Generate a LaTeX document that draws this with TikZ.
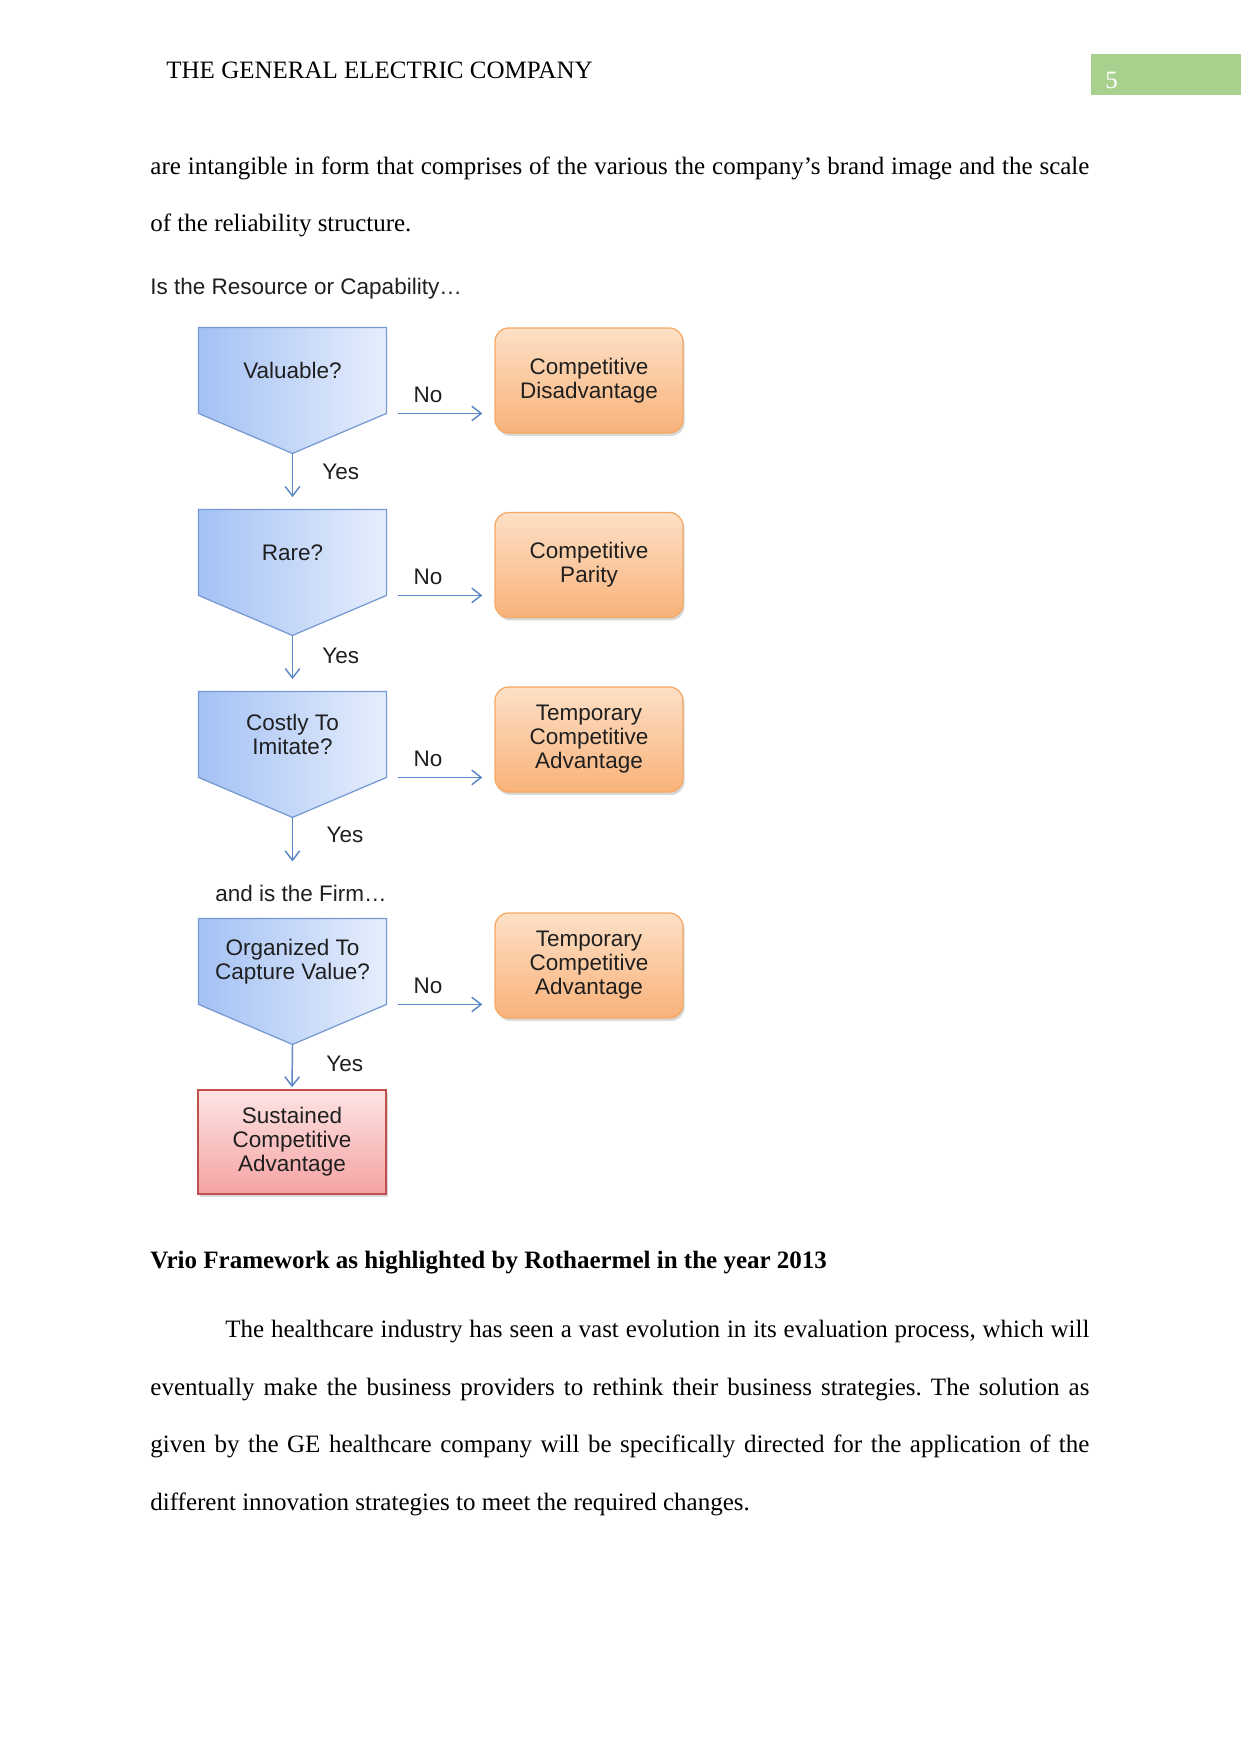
\documentclass[tikz,border=0pt]{standalone}
\usepackage{fontspec}
\setmainfont{Liberation Serif}
\newfontfamily\chartfont{Liberation Sans}
\usetikzlibrary{arrows.meta,positioning,calc,shadows}
\pgfdeclarelayer{background}
\pgfsetlayers{background,main}
\definecolor{qleft}{HTML}{A4C1F4}
\definecolor{qright}{HTML}{E6EEFC}
\definecolor{qline}{HTML}{7699D3}
\definecolor{arrowblue}{HTML}{5A87C6}
\definecolor{outtop}{HTML}{FDE0C6}
\definecolor{outbot}{HTML}{F9B27A}
\definecolor{outline}{HTML}{F5A862}
\definecolor{susttop}{HTML}{FDE4E4}
\definecolor{sustbot}{HTML}{F5A2A2}
\definecolor{sustline}{HTML}{C0504D}
\definecolor{pagegreen}{HTML}{A9D18E}
\definecolor{chartink}{HTML}{1F1F1F}
\frenchspacing

\begin{document}
\begin{tikzpicture}[
    x=0.48bp, y=-0.48bp,
    pagetext/.style={inner sep=0pt,font=\fontsize{12bp}{14bp}\selectfont},
    chart/.style={font=\fontsize{10.8bp}{11.5bp}\chartfont,text=chartink},
    lbl/.style={chart,inner sep=0pt},
    question/.style={chart,minimum width=89.8bp,minimum height=40.8bp,
                     align=center,inner sep=0pt},
    qshape/.style={draw=qline,line width=.6bp,left color=qleft,right color=qright},
    outcome/.style={chart,draw=outline,line width=.6bp,rounded corners=6.5bp,
                    top color=outtop,bottom color=outbot,align=center,
                    minimum width=90.2bp,minimum height=50.4bp,
                    drop shadow={opacity=.3,shadow xshift=.8bp,shadow yshift=-1.4bp}},
    sustain/.style={chart,draw=sustline,line width=.6bp,
                    top color=susttop,bottom color=sustbot,align=center,
                    minimum width=90.2bp,minimum height=50bp,
                    drop shadow={opacity=.3,shadow xshift=.8bp,shadow yshift=-1.4bp}},
    arr/.style={-{Straight Barb[length=4.5bp,width=7bp]},line width=.7bp,arrowblue}
  ]
  \useasboundingbox (0,0) rectangle (1241,1754);
  \begin{pgfonlayer}{background}
    \fill[white] (0,0) rectangle (1241,1754);
  \end{pgfonlayer}

  % page header
  \node[pagetext,anchor=base west] (header) at (166,78) {THE GENERAL ELECTRIC COMPANY};
  \node[fill=pagegreen,inner sep=0pt,minimum width=72bp,minimum height=19.7bp,
        anchor=north west] (pagebox) at (1091,54) {};
  \node[pagetext,anchor=base west,text=white] (pagenum) at (1105,88) {5};

  % text above the chart
  \node[pagetext,anchor=base west] (intro1) at (150,174)
    {\makebox[450.7bp][s]{are intangible in form that comprises of the various the company’s brand image and the scale}};
  \node[pagetext,anchor=base west] (intro2) at (150,231) {of the reliability structure.};

  % VRIO chart
  \node[lbl,anchor=west] (resource) at (150,289) {Is the Resource or Capability…};

  \node[question] (valuable) at (292.5,370.5) {Valuable?};
  \node[question] (rare) at (292.5,552.5) {Rare?};
  \node[question] (costly) at (292.5,734.5) {Costly To\\Imitate?};
  \node[lbl] (firm) at (301,893) {and is the Firm…};
  \node[question] (organized) at (292.5,961.5) {Organized To\\Capture Value?};
  \node[sustain] (sustained) at (292,1142) {Sustained\\Competitive\\Advantage};

  \node[outcome] (disadvantage) at (589,380.5) {Competitive\\Disadvantage};
  \node[outcome] (parity) at (589,565) {Competitive\\Parity};
  \node[outcome] (temporary) at (589,739.5) {Temporary\\Competitive\\Advantage};
  \node[outcome] (temporary2) at (589,965.5) {Temporary\\Competitive\\Advantage};

  \foreach \q in {valuable,rare,costly,organized}
    \coordinate (\q-tip) at ($(\q.south)+(0,40)$);
  \coordinate (costly-out) at ($(costly-tip)+(0,44)$);

  \begin{pgfonlayer}{background}
    \foreach \q in {valuable,rare,costly,organized}
      \path[qshape] (\q.north west) -- (\q.north east) -- (\q.south east)
        -- (\q-tip) -- (\q.south west) -- cycle;
  \end{pgfonlayer}

  % yes branches
  \draw[arr,shorten >=6bp] (valuable-tip) -- node[lbl,pos=.33,right=14bp]{Yes} (rare.north);
  \draw[arr,shorten >=6bp] (rare-tip) -- node[lbl,pos=.36,right=14bp]{Yes} (costly.north);
  \draw[arr] (costly-tip) -- node[lbl,pos=.39,right=16bp]{Yes} (costly-out);
  \draw[arr,shorten >=1bp] (organized-tip) -- node[lbl,pos=.44,right=16bp]{Yes} (sustained.north);

  % no branches
  \foreach \q/\o in {valuable/disadvantage,rare/parity,costly/temporary,organized/temporary2}
    \draw[arr,shorten <=5.3bp,shorten >=5.8bp] (\q.south east)
      -- node[lbl,pos=.385,above=5bp]{No} (\q.south east -| \o.west);

  % caption and following paragraph
  \node[pagetext,anchor=base west] (caption) at (150,1268)
    {\bfseries Vrio Framework as highlighted by Rothaermel in the year 2013};
  \node[pagetext,anchor=base west] (para1) at (225,1337)
    {\makebox[414.7bp][s]{The healthcare industry has seen a vast evolution in its evaluation process, which will}};
  \node[pagetext,anchor=base west] (para2) at (150,1395)
    {\makebox[450.7bp][s]{eventually make the business providers to rethink their business strategies. The solution as}};
  \node[pagetext,anchor=base west] (para3) at (150,1452)
    {\makebox[450.7bp][s]{given by the GE healthcare company will be specifically directed for the application of the}};
  \node[pagetext,anchor=base west] (para4) at (150,1510)
    {different innovation strategies to meet the required changes.};
\end{tikzpicture}
\end{document}
